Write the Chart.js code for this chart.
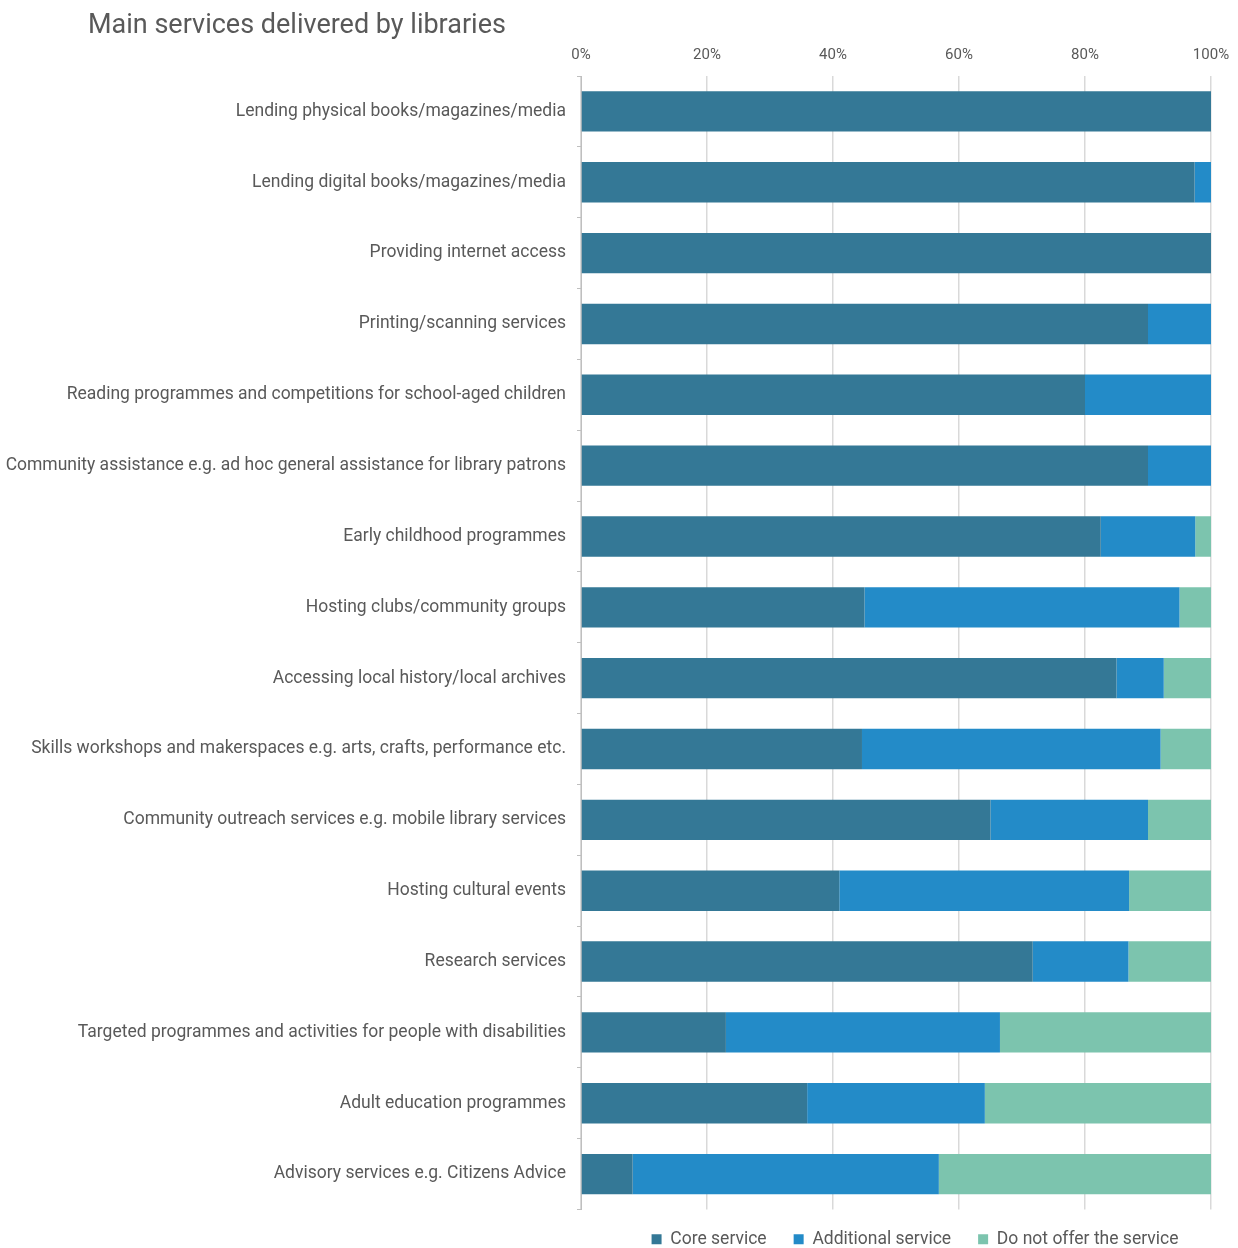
<!DOCTYPE html>
<html>
<head>
<meta charset="utf-8">
<script src="https://cdn.jsdelivr.net/npm/chart.js@4.4.1/dist/chart.umd.min.js"></script>
<style>
  html, body { margin: 0; padding: 0; background: #ffffff; }
  #wrap { width: 1238px; height: 1248px; position: relative; }
</style>
</head>
<body>
<div id="wrap"><canvas id="c" width="1238" height="1248"></canvas></div>
<script>
const chartTitle = 'Main services delivered by libraries';
const categories = [
  'Lending physical books/magazines/media',
  'Lending digital books/magazines/media',
  'Providing internet access',
  'Printing/scanning services',
  'Reading programmes and competitions for school-aged children',
  'Community assistance e.g. ad hoc general assistance for library patrons',
  'Early childhood programmes',
  'Hosting clubs/community groups',
  'Accessing local history/local archives',
  'Skills workshops and makerspaces e.g. arts, crafts, performance etc.',
  'Community outreach services e.g. mobile library services',
  'Hosting cultural events',
  'Research services',
  'Targeted programmes and activities for people with disabilities',
  'Adult education programmes',
  'Advisory services e.g. Citizens Advice'
];
const seriesNames = ['Core service', 'Additional service', 'Do not offer the service'];
const coreService       = [100, 97.4, 100, 90, 80, 90, 82.5, 45, 85, 44.6, 65, 41, 71.7, 23, 35.9, 8.2];
const additionalService = [0, 2.6, 0, 10, 20, 10, 15, 50, 7.5, 47.4, 25, 46, 15.2, 43.5, 28.2, 48.6];
const doNotOffer        = [0, 0, 0, 0, 0, 0, 2.5, 5, 7.5, 8, 10, 13, 13.1, 33.5, 35.9, 43.2];
const xTickValues = [0, 20, 40, 60, 80, 100];

const colors = ['#347896', '#238BC8', '#7CC4AE'];
const textColor = '#595959';
const FONT = "Roboto, 'Liberation Sans', sans-serif";

const titlePlugin = {
  id: 'customTitle',
  afterDraw(chart) {
    const ctx = chart.ctx;
    ctx.save();
    ctx.font = '27px ' + FONT;
    ctx.fillStyle = textColor;
    ctx.textBaseline = 'middle';
    ctx.textAlign = 'left';
    ctx.fillText(chartTitle, 88, 26);
    ctx.restore();
  }
};

const legendShift = {
  id: 'legendShift',
  afterLayout(chart) {
    const lg = chart.legend;
    if (!lg) return;
    const dx = 915 - (lg.left + lg.right) / 2;
    lg.left += dx; lg.right += dx;
    lg.top -= 6; lg.bottom -= 6;
  }
};

new Chart(document.getElementById('c'), {
  type: 'bar',
  data: {
    labels: categories,
    datasets: [
      { label: seriesNames[0], data: coreService, backgroundColor: colors[0] },
      { label: seriesNames[1], data: additionalService, backgroundColor: colors[1] },
      { label: seriesNames[2], data: doNotOffer, backgroundColor: colors[2] }
    ]
  },
  options: {
    indexAxis: 'y',
    responsive: false,
    animation: false,
    devicePixelRatio: 1,
    layout: { padding: { top: 38, left: 0, right: 27, bottom: -16 } },
    datasets: { bar: { categoryPercentage: 1, barPercentage: 0.57, borderWidth: 0 } },
    scales: {
      x: {
        position: 'top',
        stacked: true,
        min: 0, max: 100,
        afterBuildTicks(scale) { scale.ticks = xTickValues.map(v => ({ value: v })); },
        afterFit(scale) { scale.height = 38; scale.paddingLeft = 0; scale.paddingRight = 0; },
        ticks: {
          callback: v => v + '%',
          color: textColor,
          font: { family: FONT, size: 15 },
          padding: 12,
          maxRotation: 0
        },
        grid: { color: '#d9d9d9', lineWidth: 1.5, drawTicks: false },
        border: { display: false }
      },
      y: {
        stacked: true,
        afterFit(scale) { scale.width = 581; },
        ticks: {
          color: textColor,
          font: { family: FONT, size: 17.5 },
          padding: 11,
          autoSkip: false
        },
        grid: { offset: true, drawOnChartArea: false, drawTicks: true, tickLength: 4, color: '#bfbfbf' },
        border: { display: true, color: '#bfbfbf', width: 1 }
      }
    },
    plugins: {
      title: { display: false },
      tooltip: { enabled: false },
      legend: {
        position: 'bottom',
        labels: {
          color: textColor,
          font: { family: FONT, size: 17.5 },
          boxWidth: 10,
          boxHeight: 10,
          padding: 27
        }
      }
    }
  },
  plugins: [titlePlugin, legendShift]
});
</script>
</body>
</html>
